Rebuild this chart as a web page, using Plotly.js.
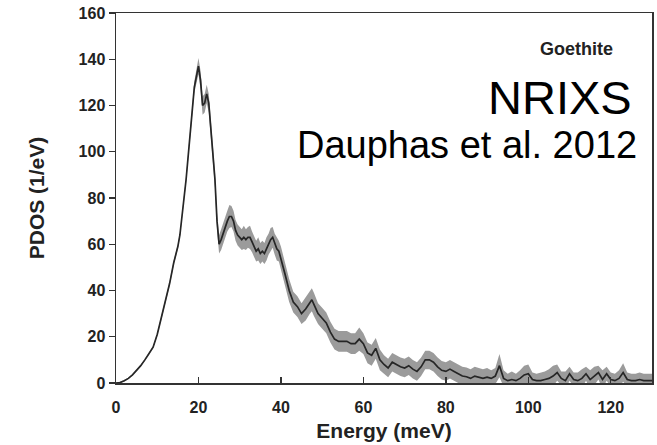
<!DOCTYPE html>
<html>
<head>
<meta charset="utf-8">
<script src="https://cdn.plot.ly/plotly-3.0.1.min.js"></script>
<style>html,body{margin:0;padding:0;background:#fff;}#chart{width:657px;height:445px;}</style>
</head>
<body>
<div id="chart"></div>
<script>
// Energy (meV)
const energy = [0,1,2,3,4,5,6,7,8,9,10,11,12,13,14,15,
  15.5,16,16.5,17,17.5,18,18.5,19,19.5,20,
  20.5,21,21.5,22,22.5,23,23.5,24,24.5,25,
  25.5,26,26.5,27,27.5,28,28.5,29,29.5,30,
  30.5,31,31.5,32,32.5,33,33.5,34,34.5,35,
  35.5,36,36.5,37,37.5,38,38.5,39,39.5,40,
  41,42,43,44,45,46,47,47.5,
  48,49,50,51,52,53,54,55,56,57,58,59,60,
  61,62,63,64,65,66,67,68,69,70,71,72,73,74,75,76,77,78,79,80,81,82,83,84,85,86,87,88,89,90,
  91,92,93,94,95,96,97,98,99,100,101,102,103,104,105,106,107,108,109,110,
  111,112,113,114,115,116,117,118,119,120,121,122,123,124,125,126,127,128,129,130];
// PDOS (1/eV)
const pdos = [0,0.2,1,2,3.5,5.5,7.5,10,12.5,15.5,21,28,35,43,52,59,
  64,71,80,88,97,107,118,128,133,137,
  131,120,121,125,121,110,101,88,70,60,
  62,65,68,70,72,72,70,66,64,63,
  62,63,62,63,63,61,59,57,58,56,
  57,56,58,60,62,63,60,58,57,54,
  47,40,35,33,30,32,35,36,
  34,30,28,26,22,19,18,18,18,17,17,19,17,
  13,12,15,10,8,6.5,9,8,7,6.5,7.5,6,5,7,10,10,9,7,5.5,5,6,5,4,3,2.7,2,3,2.5,2,2.5,
  2,3,7.5,2,1,1.5,1,2,3.5,4,1.5,1,1,1.5,2,3,4.5,2,1,4,
  1.5,1,2,4,1.5,3,4.5,1.5,4,1.5,1,2,4.5,1.5,1,1,1.5,1,1,1];
// Uncertainty half-width (1/eV)
const err = [0.3,0.3,0.3,0.3,0.3,0.3,0.4,0.4,0.5,0.5,0.6,0.7,0.8,0.9,1,1,
  1,1.2,1.2,1.4,1.5,1.6,2,2.5,3,3.5,
  4,4,4,4,4,4,3.5,3.5,3.5,4,
  4.5,4.5,4.5,4.5,5,4.5,4.5,4.5,4.5,4.5,
  4.5,5,4.5,4.5,5,4.5,4.5,4.5,5,4.5,
  4.5,4.5,5,4.5,5,4.5,4.5,5,4.5,5,
  5,5,4.5,4.5,4.5,5,5,5,
  5,4.5,4.5,4.5,4.5,4.5,4.5,4.5,4.5,4.5,4.5,5,4.5,
  4.5,4.5,4.5,4.5,4,4,4,4,4,4,4,4,4,4,4,4,4,4,4,4,4,4,4,4,4,4,4,4,4,4,
  3.5,3.5,5,3.5,3,3.5,3,3.5,4,4,3,3,3.5,3.5,4,4.5,3.5,3,4,3,
  3,3.5,4,3,4,4,3,4,3,3,3,3.5,4,3,3,3,3,3,3,3];

const xTicks = [0,20,40,60,80,100,120];
const yTicks = [0,20,40,60,80,100,120,140,160];

const lower = pdos.map((v,i)=>v-err[i]);
const upper = pdos.map((v,i)=>v+err[i]);

const traces = [
  {x: energy, y: lower, type:'scatter', mode:'lines', line:{width:0, color:'rgba(0,0,0,0)'}, hoverinfo:'skip', showlegend:false},
  {x: energy, y: upper, type:'scatter', mode:'lines', line:{width:0, color:'rgba(0,0,0,0)'}, fill:'tonexty', fillcolor:'#9b9b9b', hoverinfo:'skip', showlegend:false},
  {x: energy, y: pdos, type:'scatter', mode:'lines', line:{width:1.7, color:'#262626'}, showlegend:false}
];

const tickFont = {family:'Liberation Sans, Arial, sans-serif', size:16, color:'#222', weight:'bold'};
const layout = {
  width:657, height:445,
  margin:{l:116, r:5, t:13, b:62},
  paper_bgcolor:'#fff', plot_bgcolor:'#fff',
  showlegend:false,
  xaxis:{
    range:[0,130], tickvals:xTicks, ticktext:xTicks.map(String),
    ticks:'inside', ticklen:6, tickwidth:1.3, tickcolor:'#333',
    showline:true, linecolor:'#333', linewidth:1.5, mirror:true,
    showgrid:false, zeroline:false, tickfont:tickFont, ticklabelstandoff:9,
    title:{text:'Energy (meV)', font:{family:'Liberation Sans, Arial, sans-serif', size:21, color:'#222', weight:'bold'}, standoff:8}
  },
  yaxis:{
    range:[0,160], tickvals:yTicks, ticktext:yTicks.map(String),
    ticks:'outside', ticklen:6, tickwidth:1.3, tickcolor:'#333',
    showline:true, linecolor:'#333', linewidth:1.5, mirror:true,
    showgrid:false, zeroline:false, tickfont:tickFont,
    title:{text:'PDOS (1/eV)', font:{family:'Liberation Sans, Arial, sans-serif', size:21, color:'#222', weight:'bold'}, standoff:28}
  },
  annotations:[
    {xref:'paper', yref:'paper', x:(615-116)/536, y:(383-49)/370, xanchor:'right', yanchor:'middle', showarrow:false,
     text:'Goethite', font:{family:'Liberation Sans, Arial, sans-serif', size:18, color:'#222', weight:'bold'}},
    {xref:'paper', yref:'paper', x:(634-116)/536, y:(383-97)/370, xanchor:'right', yanchor:'middle', showarrow:false,
     text:'NRIXS', font:{family:'Liberation Sans, Arial, sans-serif', size:47, color:'#000'}},
    {xref:'paper', yref:'paper', x:(639-116)/536, y:(383-145)/370, xanchor:'right', yanchor:'middle', showarrow:false,
     text:'Dauphas et al. 2012', font:{family:'Liberation Sans, Arial, sans-serif', size:38, color:'#000'}}
  ]
};
Plotly.newPlot('chart', traces, layout, {displayModeBar:false, staticPlot:true});
</script>
</body>
</html>
